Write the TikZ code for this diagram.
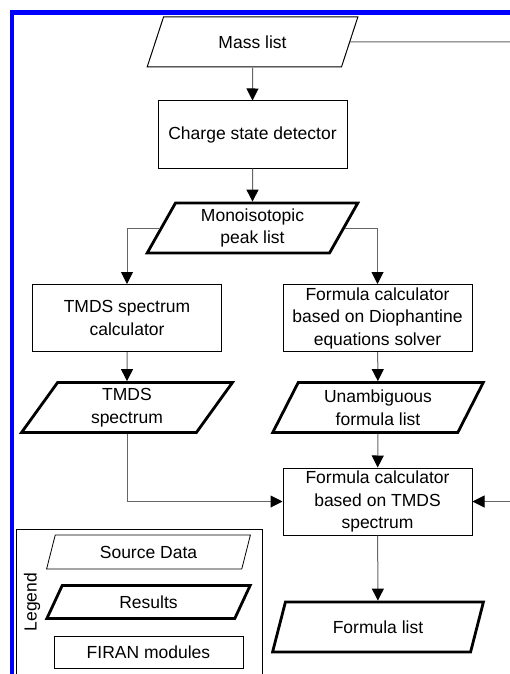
\documentclass[tikz,border=0pt]{standalone}
\usepackage{fontspec}
\setmainfont{Liberation Sans}
\usetikzlibrary{shapes.geometric,arrows.meta}
\tikzset{
  txt/.style={font=\fontsize{17.5}{22.5}\selectfont, align=center, inner sep=0pt},
  para/.style={txt, draw, trapezium, trapezium left angle=64, trapezium right angle=116,
     trapezium stretches=true, minimum width=211pt, minimum height=50pt, line width=1pt},
  respara/.style={para, line width=2.8pt},
  modbox/.style={txt, draw, rectangle, minimum width=189pt, minimum height=67pt, line width=1pt},
  conn/.style={draw=black!60, line width=1pt},
  arr/.style={conn, -{Triangle[width=12pt,length=12pt,color=black]}},
}
\begin{document}
\begin{tikzpicture}[x=1pt,y=-1pt]
\useasboundingbox (0,0) rectangle (510,674);
\fill[white] (0,0) rectangle (510,674);
% blue frame
\draw[blue, line width=4.5pt] (12,690) -- (12,12.5) -- (520,12.5);

\node[para] (mass) at (252.5,42) {Mass list};
\node[modbox] (csd) at (252.5,134.5) {Charge state detector};
\node[respara] (mono) at (252.5,228) {Monoisotopic\\peak list};
\node[modbox] (tmdscalc) at (127,318) {TMDS spectrum\\calculator};
\node[modbox] (dioph) at (377.5,318) {Formula calculator\\based on Diophantine\\equations solver};
\node[respara] (tmdsspec) at (127,407.5) {TMDS\\spectrum};
\node[respara] (unamb) at (378,407.5) {Unambiguous\\formula list};
\node[modbox] (ftmds) at (377.5,501.5) {Formula calculator\\based on TMDS\\spectrum};
\node[respara] (flist) at (378,627) {Formula list};

\coordinate (massR) at (515,42);
\coordinate (ftmdsR) at (515,501.5);

\draw[conn] (mass) -- (massR);
\draw[arr] (mass) -- (csd);
\draw[arr] (csd) -- (mono);
\draw[arr] (mono) -| (tmdscalc);
\draw[arr] (mono) -| (dioph);
\draw[arr] (tmdscalc) -- (tmdsspec);
\draw[arr] (dioph) -- (unamb);
\draw[arr] (unamb) -- (ftmds);
\draw[arr] (tmdsspec) |- (ftmds);
\draw[arr] (ftmdsR) -- (ftmds);
\draw[arr] (ftmds) -- (flist);

% legend
\draw[line width=1pt] (16,690) -- (16,529) -- (262,529) -- (262,690);
\node[txt, rotate=90] (legend) at (32,602) {Legend};
\node[para, minimum width=204pt, minimum height=34pt, trapezium left angle=70, trapezium right angle=110, line width=0.8pt] (lsrc) at (148.5,552) {Source Data};
\node[respara, minimum width=204pt, minimum height=33pt, trapezium left angle=68, trapezium right angle=112] (lres) at (148.5,602) {Results};
\node[modbox, minimum height=32pt] (lmod) at (148.5,652) {FIRAN modules};
\end{tikzpicture}
\end{document}
